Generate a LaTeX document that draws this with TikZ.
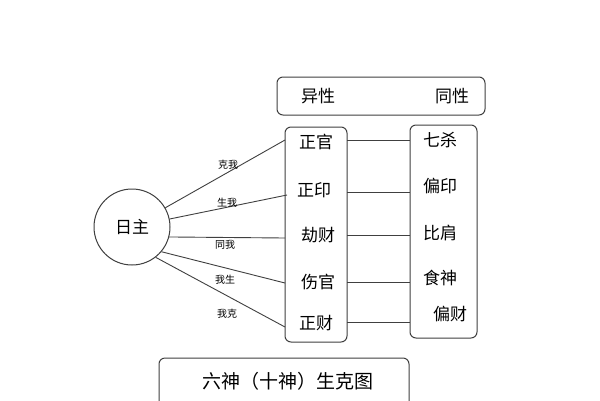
\documentclass[tikz,border=0pt]{standalone}
\usepackage{fontspec}
\setmainfont{Noto Sans CJK SC}
\begin{document}
\begin{tikzpicture}[x=1pt,y=-1pt,
  box/.style={draw=black!75,line width=1pt,rounded corners=6pt},
  big/.style={font=\fontsize{17}{19}\selectfont,inner sep=0pt},
  lab/.style={font=\fontsize{10}{12}\selectfont,inner sep=0pt},
  ln/.style={draw=black!75,line width=0.9pt}]
\useasboundingbox (0,0) rectangle (600,400);
\fill[white] (0,0) rectangle (600,400);
\node[box,minimum width=208pt,minimum height=38pt] (top) at (381,96) {};
\node[big] (yx) at (318,96) {异性};
\node[big] (tx) at (452,96) {同性};
\node[box,minimum width=62pt,minimum height=215pt] (lb) at (316,234.5) {};
\node[box,minimum width=67pt,minimum height=213pt] (rb) at (443.5,231.5) {};
\node[box,minimum width=250pt,minimum height=60pt] (bb) at (284,388) {};
\node[font=\fontsize{19}{21}\selectfont,inner sep=0pt] at (288,381) {六神（十神）生克图};
\node[circle,draw=black!75,line width=1pt,minimum size=76pt,big] (rz) at (132,227) {日主};
\node[big] (a1) at (316,142) {正官};
\node[big] (a2) at (314,190) {正印};
\node[big] (a3) at (318,235) {劫财};
\node[big] (a4) at (318,282) {伤官};
\node[big] (a5) at (316,323) {正财};
\node[big] (b1) at (440,140) {七杀};
\node[big] (b2) at (440,186) {偏印};
\node[big] (b3) at (440,233) {比肩};
\node[big] (b4) at (440,278) {食神};
\node[big] (b5) at (450,314) {偏财};
\coordinate (l1) at (285,140); \coordinate (l2) at (287,195); \coordinate (l3) at (285,238);
\coordinate (l4) at (285,283); \coordinate (l5) at (285,327);
\draw[ln] (rz.30) -- (l1);
\draw[ln] (rz.12) -- (l2);
\draw[ln] (rz.-15) -- (l3);
\draw[ln] (rz.-40) -- (l4);
\draw[ln] (rz.-52) -- (l5);
\node[lab] at (228,165) {克我};
\node[lab] at (227,203) {生我};
\node[lab] at (225,245) {同我};
\node[lab] at (225,280) {我生};
\node[lab] at (227,314) {我克};
\foreach \y in {140,192,235,282,322}{
  \coordinate (p\y) at (347,\y); \coordinate (q\y) at (410,\y);
  \draw[ln] (p\y) -- (q\y);}
\end{tikzpicture}
\end{document}
